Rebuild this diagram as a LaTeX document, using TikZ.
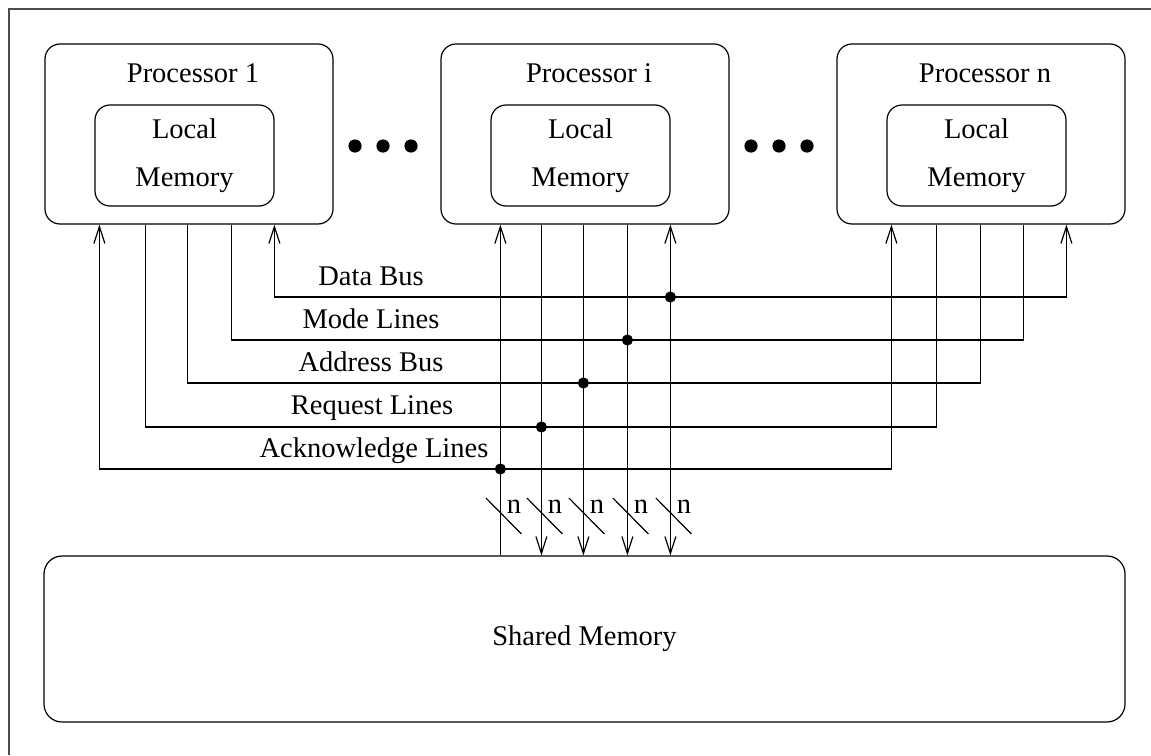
\documentclass[tikz,border=0pt]{standalone}
\usepackage{fontspec}
\setmainfont{Liberation Serif}
\usetikzlibrary{arrows.meta,calc}

\tikzset{
  wire/.style={line width=0.6pt},
  >={Straight Barb[length=8.5pt,width=5.5pt]},
  procbox/.style={draw, line width=0.6pt, rounded corners=7.5pt,
    minimum width=144pt, minimum height=90pt, inner sep=0pt},
  membox/.style={draw, line width=0.6pt, rounded corners=7.5pt,
    minimum width=89.5pt, minimum height=50.5pt, inner sep=0pt,
    align=center, font=\fontsize{14.25}{24}\selectfont},
  sharedbox/.style={draw, line width=0.6pt, rounded corners=9pt,
    minimum width=540.5pt, minimum height=83pt, inner sep=0pt},
  lbl/.style={inner sep=0pt, font=\fontsize{14.25}{17}\selectfont},
  junction/.style={fill, circle, inner sep=0pt, minimum size=5.6pt},
  bigdot/.style={fill, circle, inner sep=0pt, minimum size=6.6pt},
}

\begin{document}
\begin{tikzpicture}[x=0.5pt,y=-0.5pt]
\useasboundingbox (0,0) rectangle (1151,755);

% page frame
\draw[black!70, line width=0.6pt] (9,755) -- (9,9) -- (1151,9);

% processors
\foreach \p/\cx/\name in {1/189/1, i/585/i, n/981/n}{
  \node[procbox] (p\p) at (\cx,134) {};
  \node[lbl, anchor=base] (t\p) at ($(p\p.center)+(4,-52)$) {Processor \name};
  \node[membox] (m\p) at ($(p\p.center)+(-4.5,21.5)$) {Local\\Memory};
}

% ellipsis dots between processors
\foreach \x in {355,383,411,751,779,807}
  \node[bigdot] at (\x,146) {};

% shared memory
\node[sharedbox] (sm) at (584.5,639) {};
\node[lbl] (smt) at (sm.center) {Shared Memory};

% taps on the bottom edge of each processor (ack, req, addr, mode, data)
\foreach \k/\dx in {1/55,2/101,3/143,4/187,5/230}{
  \coordinate (a\k) at ($(p1.south west)+(\dx,0)$);
}
\foreach \k/\dx in {1/60,2/101,3/143,4/187,5/230}{
  \coordinate (b\k) at ($(pi.south west)+(\dx,0)$);
}
\foreach \k/\dx in {1/55,2/100,3/144,4/187,5/230}{
  \coordinate (c\k) at ($(pn.south west)+(\dx,0)$);
}

% bus junctions on the lines of processor i
\coordinate (j1) at (b1 |- 0,469);
\coordinate (j2) at (b2 |- 0,427);
\coordinate (j3) at (b3 |- 0,383);
\coordinate (j4) at (b4 |- 0,340);
\coordinate (j5) at (b5 |- 0,297);

% buses between processor 1 and processor n
\draw[wire,<->] (a1) |- (j1) -| (c1);
\draw[wire] (a2) |- (j2) -| (c2);
\draw[wire] (a3) |- (j3) -| (c3);
\draw[wire] (a4) |- (j4) -| (c4);
\draw[wire,<->] (a5) |- (j5) -| (c5);

% lines of processor i to shared memory
\draw[wire,->] (b1 |- sm.north) -- (b1);
\draw[wire,->] (b2) -- (b2 |- sm.north);
\draw[wire,->] (b3) -- (b3 |- sm.north);
\draw[wire,->] (b4) -- (b4 |- sm.north);
\draw[wire,<->] (b5) -- (b5 |- sm.north);

\foreach \k in {1,...,5}
  \node[junction] at (j\k) {};

% width marks
\foreach \k in {1,...,5}{
  \coordinate (w\k) at (b\k |- 0,516);
  \draw[wire] ($(w\k)+(-14.5,-18)$) -- ($(w\k)+(21,18)$);
  \node[lbl, anchor=base] (n\k) at ($(b\k |- 0,513)+(13.5,0)$) {n};
}

% bus names
\node[lbl, anchor=base] (ld) at (371,285) {Data Bus};
\node[lbl, anchor=base] (lm) at (371,328) {Mode Lines};
\node[lbl, anchor=base] (la) at (371,371) {Address Bus};
\node[lbl, anchor=base] (lr) at (372,414) {Request Lines};
\node[lbl, anchor=base] (lk) at (374,457) {Acknowledge Lines};
\end{tikzpicture}
\end{document}
